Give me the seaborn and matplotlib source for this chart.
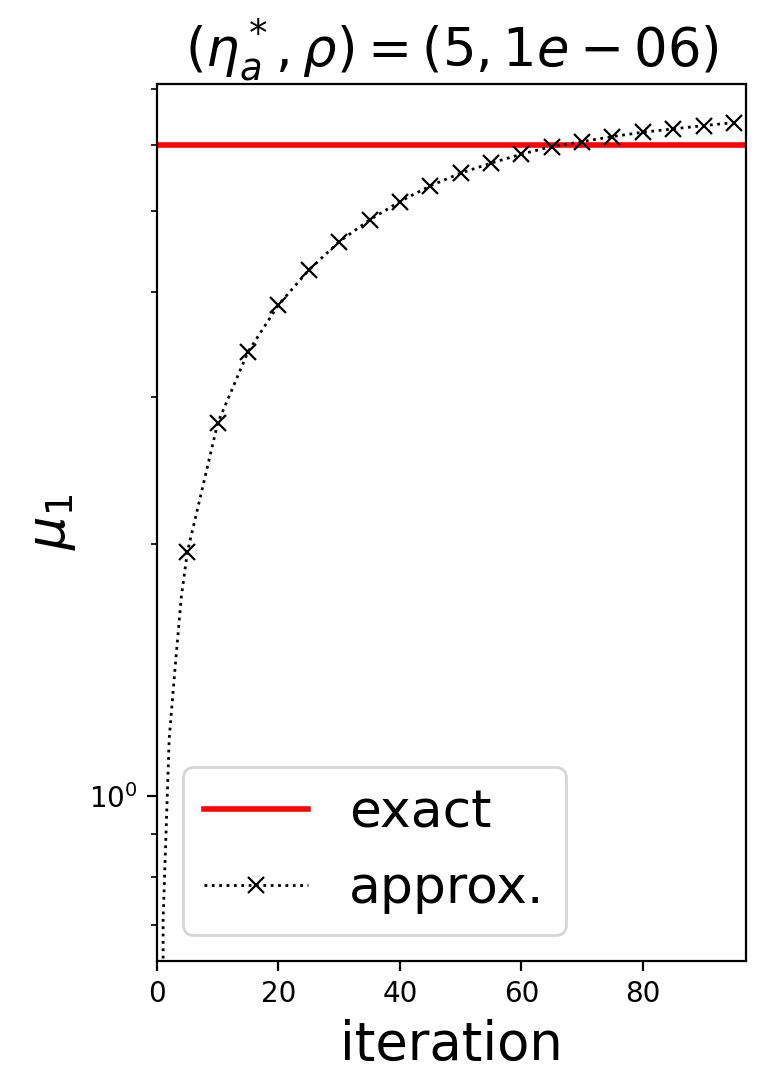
import numpy as np
import matplotlib as mpl
import matplotlib.pyplot as plt
import seaborn as sns

# values
ITERATIONS = [0, 1, 2, 3, 4, 5, 10, 15, 20, 25, 30, 35, 40, 45, 50,
              55, 60, 65, 70, 75, 80, 85, 90, 95]
MU_APPROX = [0.0, 0.71, 1.17, 1.43, 1.73, 1.957, 2.792, 3.397, 3.864, 4.254,
             4.600, 4.882, 5.136, 5.363, 5.554, 5.709, 5.852, 5.975, 6.058,
             6.142, 6.216, 6.273, 6.330, 6.383]
MU_EXACT = 6.0
ETA_A, RHO = 5, 1e-06

mark_idx = [i for i, it in enumerate(ITERATIONS) if it % 5 == 0 and it > 0]

mpl.rcParams.update(mpl.rcParamsDefault)

fig, ax = plt.subplots(figsize=(3.83, 5.45), dpi=200)
fig.subplots_adjust(left=0.205, right=0.974, top=0.923, bottom=0.1186)

ax.axhline(MU_EXACT, color="red", linewidth=2, label="exact")
sns.lineplot(
    x=ITERATIONS,
    y=MU_APPROX,
    ax=ax,
    color="black",
    linestyle=":",
    linewidth=1,
    marker="x",
    markersize=5.5,
    markeredgewidth=0.8,
    markeredgecolor="black",
    markerfacecolor="black",
    markevery=mark_idx,
    label="approx.",
    legend=False,
)

ax.set_yscale("log")
ax.set_ylim(0.635, 7.1)
ax.set_xlim(0, 97)
ax.yaxis.set_minor_formatter(mpl.ticker.NullFormatter())
ax.set_xticks([0, 20, 40, 60, 80])

ax.set_xlabel("iteration", fontsize=19)
ax.set_ylabel(r"$\mu_1$", fontsize=19)
ax.set_title(r"$(\eta_a^*, \rho) = (%d, %s)$" % (ETA_A, "1e-06"), fontsize=19)

ax.legend(loc="lower left", fontsize=18.7)

fig.savefig("out.png", dpi=200)
